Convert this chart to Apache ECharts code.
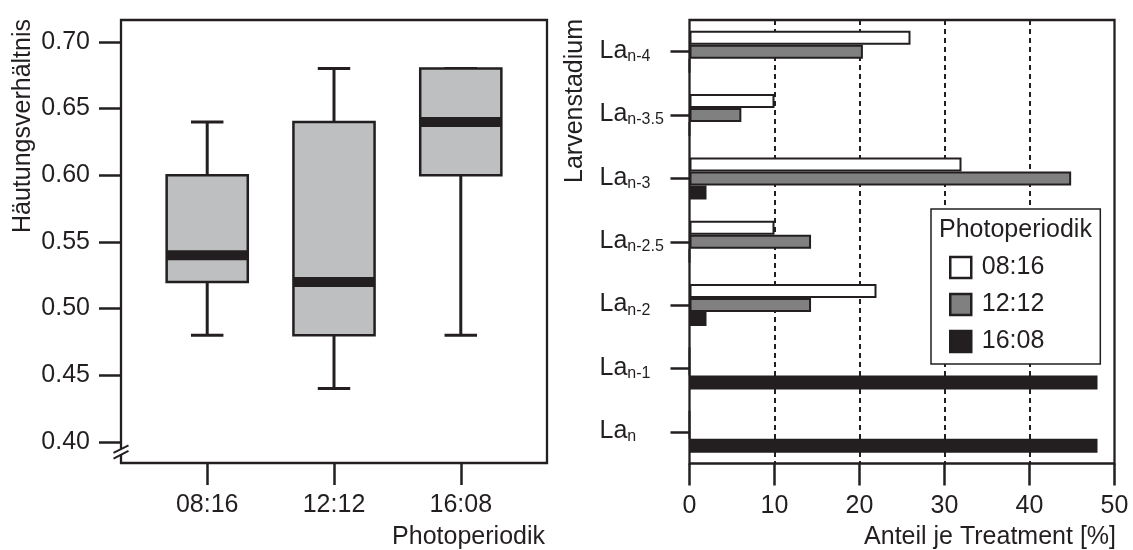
<!DOCTYPE html>
<html>
<head>
<meta charset="utf-8">
<script src="https://cdn.jsdelivr.net/npm/echarts@6/dist/echarts.min.js"></script>
<style>
html,body{margin:0;padding:0;background:#fff;}
#chart{width:1133px;height:550px;}
</style>
</head>
<body>
<div id="chart"></div>
<script>
// ---------- Data ----------
const boxCategories = ['08:16', '12:12', '16:08'];
const boxMin    = [0.48, 0.44, 0.48];
const boxQ1     = [0.52, 0.48, 0.60];
const boxMedian = [0.54, 0.52, 0.64];
const boxQ3     = [0.60, 0.64, 0.68];
const boxMax    = [0.64, 0.68, 0.68];
const leftYTicks = [0.40, 0.45, 0.50, 0.55, 0.60, 0.65, 0.70];

const stages = ['n-4', 'n-3.5', 'n-3', 'n-2.5', 'n-2', 'n-1', 'n'];
const seriesNames = ['08:16', '12:12', '16:08'];
const share0816 = [26, 10, 32, 10, 22, 0, 0];
const share1212 = [20.4, 6.1, 44.9, 14.3, 14.3, 0, 0];
const share1608 = [0, 0, 2, 0, 2, 48, 48];

// ---------- Styling ----------
const INK = '#231f20';
const FONT = "'Liberation Sans', Arial, sans-serif";
const FS = 25;

const chart = echarts.init(document.getElementById('chart'), null, {renderer: 'canvas'});

const boxData = boxCategories.map((c, i) => [i + 1, boxMin[i], boxQ1[i], boxMedian[i], boxQ3[i], boxMax[i]]);

function renderBox(params, api) {
  const x = api.value(0);
  const pMin = api.coord([x, api.value(1)]);
  const pQ1 = api.coord([x, api.value(2)]);
  const pMed = api.coord([x, api.value(3)]);
  const pQ3 = api.coord([x, api.value(4)]);
  const pMax = api.coord([x, api.value(5)]);
  const band = api.size([1, 0])[0];
  const halfW = band * 0.32;
  const capHalf = band * 0.128;
  const px = pMin[0];
  const ls = {stroke: INK, lineWidth: 3};
  return {
    type: 'group',
    children: [
      {type: 'line', shape: {x1: px, y1: pMax[1], x2: px, y2: pQ3[1]}, style: ls},
      {type: 'line', shape: {x1: px, y1: pQ1[1], x2: px, y2: pMin[1]}, style: ls},
      {type: 'line', shape: {x1: px - capHalf, y1: pMax[1], x2: px + capHalf, y2: pMax[1]}, style: ls},
      {type: 'line', shape: {x1: px - capHalf, y1: pMin[1], x2: px + capHalf, y2: pMin[1]}, style: ls},
      {type: 'rect', shape: {x: px - halfW, y: pQ3[1], width: 2 * halfW, height: pQ1[1] - pQ3[1]},
       style: {fill: '#bebfc1', stroke: INK, lineWidth: 2.5}},
      {type: 'line', shape: {x1: px - halfW, y1: pMed[1], x2: px + halfW, y2: pMed[1]},
       style: {stroke: INK, lineWidth: 10}}
    ]
  };
}

const barCommon = {
  type: 'bar', xAxisIndex: 1, yAxisIndex: 1,
  barWidth: 14, barGap: '0%'
};

const option = {
  animation: false,
  textStyle: {fontFamily: FONT, color: INK},
  grid: [
    {left: 121, top: 20, width: 426, height: 443, show: true, borderColor: INK, borderWidth: 2.3, backgroundColor: 'transparent'},
    {left: 689.5, top: 20, width: 425, height: 443.5, show: true, borderColor: INK, borderWidth: 2.3, backgroundColor: 'transparent'}
  ],
  xAxis: [
    {
      gridIndex: 0, type: 'value', min: 0.32, max: 3.68,
      axisLine: {show: false},
      splitLine: {show: false},
      axisTick: {show: true, length: 22, customValues: [1, 2, 3], lineStyle: {color: INK, width: 2.5}},
      axisLabel: {show: true, customValues: [1, 2, 3], margin: 30, fontSize: FS, color: INK, fontFamily: FONT,
        formatter: v => boxCategories[Math.round(v) - 1] || ''}
    },
    {
      gridIndex: 1, type: 'value', min: 0, max: 50, interval: 10,
      axisLine: {show: false},
      splitLine: {show: true, showMinLine: false, showMaxLine: false, lineStyle: {color: INK, width: 2, type: [5, 4]}},
      axisTick: {show: true, length: 22, lineStyle: {color: INK, width: 2.5}},
      axisLabel: {margin: 30, fontSize: FS, color: INK, fontFamily: FONT}
    }
  ],
  yAxis: [
    {
      gridIndex: 0, type: 'value', min: 0.3842, max: 0.7164,
      axisLine: {show: false},
      splitLine: {show: false},
      axisTick: {show: true, length: 22, customValues: leftYTicks, lineStyle: {color: INK, width: 2.5}},
      axisLabel: {show: true, customValues: leftYTicks, margin: 31, fontSize: FS, color: INK, fontFamily: FONT,
        formatter: v => v.toFixed(2)}
    },
    {
      gridIndex: 1, type: 'category', inverse: true, data: stages,
      axisLine: {show: false},
      splitLine: {show: false},
      axisTick: {show: true, alignWithLabel: true, length: 19, lineStyle: {color: INK, width: 2.5}},
      axisLabel: {
        margin: 90, align: 'left', color: INK, fontFamily: FONT,
        formatter: v => '{a|La}{b|' + v + '}',
        rich: {
          a: {fontSize: FS, fontFamily: FONT, color: INK, lineHeight: 26, verticalAlign: 'top'},
          b: {fontSize: 16, fontFamily: FONT, color: INK, lineHeight: 18, padding: [17, 0, 0, 0], verticalAlign: 'bottom'}
        }
      }
    }
  ],
  legend: {
    data: seriesNames,
    orient: 'vertical',
    left: 931, top: 209,
    padding: [46, 56, 10, 18],
    itemWidth: 32, itemHeight: 21, itemGap: 12,
    icon: 'path://M0,0L10,0L10,10L0,10Z',
    symbolKeepAspect: true,
    selectedMode: false,
    backgroundColor: '#fff',
    borderColor: INK, borderWidth: 1.5, borderRadius: 0,
    itemStyle: {borderWidth: 2.5, borderColor: INK},
    textStyle: {fontSize: FS, color: INK, fontFamily: FONT, lineHeight: 21},
    z: 10
  },
  graphic: [
    {id: 'legTitle', type: 'text', x: 939, y: 230, z: 100,
     style: {text: 'Photoperiodik', font: FS + 'px ' + FONT, fill: INK, textAlign: 'left', textVerticalAlign: 'middle'}},
    {id: 'yTitleL', type: 'text', x: 23, y: 19, rotation: Math.PI / 2, z: 100,
     style: {text: 'Häutungsverhältnis', font: FS + 'px ' + FONT, fill: INK, textAlign: 'right', textVerticalAlign: 'middle'}},
    {id: 'yTitleR', type: 'text', x: 575, y: 19, rotation: Math.PI / 2, z: 100,
     style: {text: 'Larvenstadium', font: FS + 'px ' + FONT, fill: INK, textAlign: 'right', textVerticalAlign: 'middle'}},
    {id: 'xTitleL', type: 'text', x: 545, y: 537, z: 100,
     style: {text: 'Photoperiodik', font: FS + 'px ' + FONT, fill: INK, textAlign: 'right', textVerticalAlign: 'middle'}},
    {id: 'xTitleR', type: 'text', x: 1116, y: 537, z: 100,
     style: {text: 'Anteil je Treatment [%]', font: FS + 'px ' + FONT, fill: INK, textAlign: 'right', textVerticalAlign: 'middle'}}
  ],
  series: [
    {
      type: 'custom', xAxisIndex: 0, yAxisIndex: 0,
      renderItem: renderBox,
      encode: {x: 0, y: [1, 2, 3, 4, 5]},
      data: boxData,
      clip: false
    },
    Object.assign({}, barCommon, {name: seriesNames[0], data: share0816,
      itemStyle: {color: '#ffffff', borderColor: INK, borderWidth: 2}}),
    Object.assign({}, barCommon, {name: seriesNames[1], data: share1212,
      itemStyle: {color: '#808080', borderColor: INK, borderWidth: 2}}),
    Object.assign({}, barCommon, {name: seriesNames[2], data: share1608,
      itemStyle: {color: INK, borderColor: INK, borderWidth: 2}})
  ]
};

chart.setOption(option);

// axis break marks on the left value axis (drawn at the grid's left edge)
const yMid = 0.3925;
const c = chart.convertToPixel({xAxisIndex: 0, yAxisIndex: 0}, [0.32, yMid]);
const ax = c[0], ay = c[1];
const dx = 7.5, dy = 3.8, gap = 5.7;
chart.setOption({
  graphic: [
    {id: 'brkFill', type: 'polygon', z: 50,
     shape: {points: [[ax - dx, ay + dy - gap / 2], [ax + dx, ay - dy - gap / 2], [ax + dx, ay - dy + gap / 2], [ax - dx, ay + dy + gap / 2]]},
     style: {fill: '#fff'}},
    {id: 'brkA', type: 'line', z: 51,
     shape: {x1: ax - dx, y1: ay + dy - gap / 2, x2: ax + dx, y2: ay - dy - gap / 2},
     style: {stroke: INK, lineWidth: 2}},
    {id: 'brkB', type: 'line', z: 51,
     shape: {x1: ax - dx, y1: ay + dy + gap / 2, x2: ax + dx, y2: ay - dy + gap / 2},
     style: {stroke: INK, lineWidth: 2}}
  ]
});
</script>
</body>
</html>
